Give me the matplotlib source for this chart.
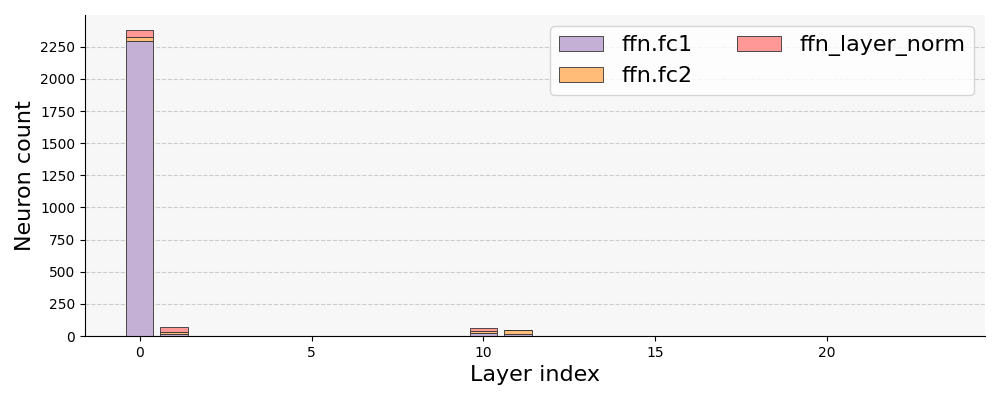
import numpy as np
import matplotlib
matplotlib.use("Agg")
import matplotlib.pyplot as plt

# layer indices and per-module neuron counts
layers = list(range(24))
fc1 = [0] * 24
fc2 = [0] * 24
norm = [0] * 24
fc1[0], fc2[0], norm[0] = 2293, 36, 48
fc1[1], fc2[1], norm[1] = 16, 16, 39
fc1[10], fc2[10], norm[10] = 20, 20, 20
fc1[11], fc2[11], norm[11] = 19, 25, 6

names = ["ffn.fc1", "ffn.fc2", "ffn_layer_norm"]
colors = ["#c5b0d5", "#ffbb78", "#ff9896"]

fig, ax = plt.subplots(figsize=(10, 4), dpi=100)
ax.set_facecolor("#f7f7f7")

bottom = np.zeros(len(layers))
for vals, name, c in zip([fc1, fc2, norm], names, colors):
    vals = np.array(vals)
    ax.bar(layers, vals, bottom=bottom, width=0.8, color=c,
           edgecolor="#333333", linewidth=0.6, label=name)
    bottom += vals

ax.set_xlabel("Layer index", fontsize=16)
ax.set_ylabel("Neuron count", fontsize=16)
ax.set_yticks(np.arange(0, 2251, 250))
ax.grid(axis="y", linestyle="--", color="#cccccc", linewidth=0.8)
ax.set_axisbelow(True)
ax.spines["top"].set_visible(False)
ax.spines["right"].set_visible(False)
ax.legend(ncol=2, fontsize=16, loc="upper right")

plt.subplots_adjust(left=0.085, right=0.985, top=0.962, bottom=0.16)
plt.savefig("out.png")
